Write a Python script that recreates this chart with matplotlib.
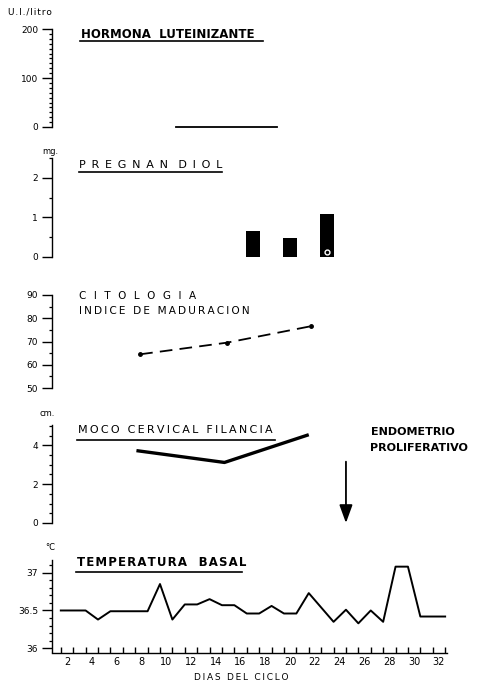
import matplotlib.pyplot as plt
from matplotlib.lines import Line2D
import numpy as np

# day axis
label_days = list(range(2, 33, 2))
temp_days = [1, 2, 3, 4, 5, 6, 7, 8, 9, 10, 11, 12, 13, 14, 15, 16, 17, 18, 19, 20,
             21, 23, 24, 25, 26, 27, 28, 29, 30, 32]
temp_values = [36.5, 36.5, 36.5, 36.38, 36.49, 36.49, 36.49, 36.49, 36.85, 36.38,
               36.58, 36.58, 36.65, 36.57, 36.57, 36.46, 36.46, 36.56, 36.46, 36.46,
               36.73, 36.35, 36.51, 36.33, 36.5, 36.35, 37.08, 37.08, 36.42, 36.42]

# hormona luteinizante (U.I./litro)
lh_days = [10.8, 18.9]
lh_values = [0, 0]

# pregnandiol (mg.)
preg_days = [17, 20, 23]
preg_values = [0.65, 0.48, 1.09]

# citologia, indice de maduracion
cito_days = [7.9, 14.9, 21.7]
cito_values = [64.5, 69.5, 76.6]

# moco cervical, filancia (cm.)
moco_days = [7.6, 14.7, 21.5]
moco_values = [3.73, 3.12, 4.55]

endometrio_day = 24.5

W, H = 482, 686
fig = plt.figure(figsize=(W / 100, H / 100), dpi=100)
plt.rcParams['font.family'] = 'DejaVu Sans'

THIN = '\u2009'
HAIR = '\u200a'

xlim = (0.79, 32.65)
ax_left = 52 / W
ax_width = 395 / W


def spaced(s, sep=THIN):
    return sep.join(s)


def make_axes(top, bottom, ylim):
    ax = fig.add_axes([ax_left, 1 - bottom / H, ax_width, (bottom - top) / H])
    ax.set_xlim(*xlim)
    ax.set_ylim(*ylim)
    for s in ['top', 'right', 'bottom']:
        ax.spines[s].set_visible(False)
    ax.spines['left'].set_linewidth(1.0)
    ax.set_xticks([])
    ax.tick_params(axis='y', which='major', length=7, width=1.0, pad=3, labelsize=6.5)
    ax.tick_params(axis='y', which='minor', length=2.5, width=0.9)
    return ax


def ftext(x, y, s, **kw):
    kw.setdefault('va', 'center')
    kw.setdefault('fontsize', 8.5)
    fig.text(x / W, 1 - y / H, s, **kw)


def underline(x0, x1, y):
    fig.add_artist(Line2D([x0 / W, x1 / W], [1 - y / H, 1 - y / H],
                          transform=fig.transFigure, color='black', lw=1.2))


# hormona luteinizante
ax1 = make_axes(29, 127, (0, 200))
ax1.set_yticks([0, 100, 200])
ax1.set_yticks(np.arange(0, 201, 10), minor=True)
ax1.plot(lh_days, lh_values, color='black', lw=1.3, clip_on=False)
ftext(8, 12, spaced('U.I./litro', HAIR), fontsize=6.5)
ftext(81, 35, 'HORMONA  LUTEINIZANTE', fontweight='bold')
underline(80, 263, 41)

# pregnandiol
ax2 = make_axes(158, 257, (0, 2.5))
ax2.set_yticks([0, 1, 2])
ax2.set_yticks([0.5, 1.5, 2.5], minor=True)
ax2.bar(preg_days, preg_values, width=1.15, color='black')
ax2.plot(preg_days[2], 0.12, marker='o', ms=3.5, mfc='black', mec='white', mew=1)
ftext(42, 151, 'mg.', fontsize=6)
ftext(79, 165, spaced('P R E G N A N  D I O L', HAIR), fontsize=8)
underline(79, 222, 172)

# citologia
ax3 = make_axes(295, 388, (50, 90))
ax3.set_yticks([50, 60, 70, 80, 90])
ax3.set_yticks([55, 65, 75, 85], minor=True)
ax3.plot(cito_days, cito_values, color='black', lw=1.3, ls=(0, (7, 4)),
         marker='o', ms=2.5)
ftext(79, 296, spaced('C I T O L O G I A'), fontsize=7.5)
ftext(79, 311, spaced('INDICE DE MADURACION'), fontsize=7.6)

# moco cervical
ax4 = make_axes(425, 523, (0, 5.05))
ax4.set_yticks([0, 2, 4])
ax4.set_yticks(np.arange(0, 5.01, 0.5), minor=True)
ax4.plot(moco_days, moco_values, color='black', lw=2.4, solid_capstyle='butt')
ax4.annotate('', xy=(endometrio_day, 0), xytext=(endometrio_day, 3.16),
             arrowprops=dict(arrowstyle='-|>,head_width=0.4,head_length=1.1',
                             lw=1.3, color='black', shrinkA=0, shrinkB=0))
ftext(40, 413, 'cm.', fontsize=6)
ftext(78, 430, spaced('MOCO CERVICAL FILANCIA'), fontsize=8)
underline(77, 275, 439.5)
ftext(371, 432, 'ENDOMETRIO', fontsize=8, fontweight='bold')
ftext(370, 448, 'PROLIFERATIVO', fontsize=8, fontweight='bold')

# temperatura basal
ax5 = make_axes(560, 652.5, (35.944, 37.168))
ax5.spines['bottom'].set_visible(True)
ax5.spines['bottom'].set_linewidth(1.0)
ax5.set_yticks([36, 36.5, 37])
ax5.set_yticklabels(['36', '36.5', '37'])
ax5.set_yticks(np.arange(36.0, 37.15, 0.1), minor=True)
ax5.set_xticks(label_days)
ax5.set_xticklabels([str(d) for d in label_days])
ax5.set_xticks(np.arange(1, 33) + 0.5, minor=True)
ax5.tick_params(axis='x', which='major', length=0, pad=3, labelsize=7)
ax5.tick_params(axis='x', which='minor', direction='in', length=4, width=1.0)
# readings are marked on the day boundaries
ax5.plot(np.array(temp_days) + 0.5, temp_values, color='black', lw=1.4)
ftext(45, 547, '°C', fontsize=6)
ftext(77, 563, spaced('TEMPERATURA  BASAL', HAIR), fontweight='bold')
underline(76, 242, 571.7)
ftext(241, 677, spaced('DIAS DEL CICLO'), fontsize=6.5, ha='center')

fig.savefig('out.png', dpi=100)
